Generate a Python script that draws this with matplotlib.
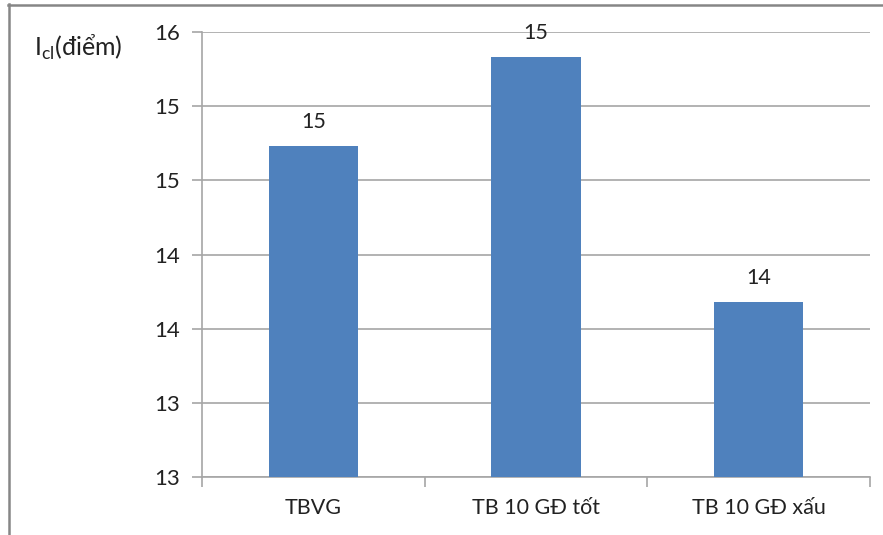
import matplotlib
matplotlib.use("Agg")
import matplotlib.pyplot as plt
from matplotlib.lines import Line2D
from matplotlib.ticker import FuncFormatter
import math

plt.rcParams['font.family'] = ['Lato', 'DejaVu Sans']

categories = ["TBVG", "TB 10 GĐ tốt", "TB 10 GĐ xấu"]
values = [15.23, 15.83, 14.18]
y_ticks = [13.0, 13.5, 14.0, 14.5, 15.0, 15.5, 16.0]
y_label = "I$_{\\mathregular{cl}}$(điểm)"

W, H = 883, 535
fig = plt.figure(figsize=(W / 100, H / 100), dpi=100)
ax = fig.add_axes([202 / W, 1 - 477 / H, (870 - 202) / W, (477 - 32) / H])

bar_color = "#4f81bd"
grid_color = "#a6a6a6"
text_color = "#222222"

x = list(range(len(categories)))
bars = ax.bar(x, values, width=0.4, color=bar_color, zorder=3)

ax.set_xlim(-0.5, len(categories) - 0.5)
ax.set_ylim(y_ticks[0], y_ticks[-1])

# whole-number labels, truncated like the number format in the source workbook
trunc = FuncFormatter(lambda v, pos: f"{math.floor(v + 1e-9):d}")
ax.set_yticks(y_ticks)
ax.yaxis.set_major_formatter(trunc)
ax.yaxis.grid(True, color=grid_color, linewidth=1.2, zorder=0)

# category labels centred between boundary ticks
ax.set_xticks([i - 0.5 for i in range(len(categories) + 1)])
ax.set_xticklabels([])
ax.set_xticks(x, minor=True)
ax.set_xticklabels(categories, minor=True)
ax.tick_params(axis='x', which='minor', length=0, pad=15, labelsize=15.5, labelcolor=text_color)
ax.tick_params(axis='x', which='major', length=7, width=1.2, color=grid_color, direction='out')
ax.tick_params(axis='y', length=7, width=1.2, color=grid_color, direction='out', pad=9,
               labelsize=16, labelcolor=text_color)

for s in ("top", "right"):
    ax.spines[s].set_visible(False)
for s in ("left", "bottom"):
    ax.spines[s].set_color(grid_color)
    ax.spines[s].set_linewidth(1.2)

for rect, v in zip(bars, values):
    ax.annotate(f"{math.floor(v):d}", (rect.get_x() + rect.get_width() / 2, v),
                xytext=(0, 10), textcoords="offset points", ha="center", va="bottom",
                fontsize=15.5, color=text_color)

fig.text(34 / W, 1 - 47 / H, y_label, ha="left", va="center", fontsize=18, color=text_color)

# outer frame (top and left edges)
frame_color = "#868686"
fig.add_artist(Line2D([8 / W, 1.0], [1 - 4.5 / H, 1 - 4.5 / H], transform=fig.transFigure,
                      color=frame_color, linewidth=1.8))
fig.add_artist(Line2D([9 / W, 9 / W], [0.0, 1 - 4 / H], transform=fig.transFigure,
                      color=frame_color, linewidth=1.8))

fig.savefig("out.png", dpi=100)
